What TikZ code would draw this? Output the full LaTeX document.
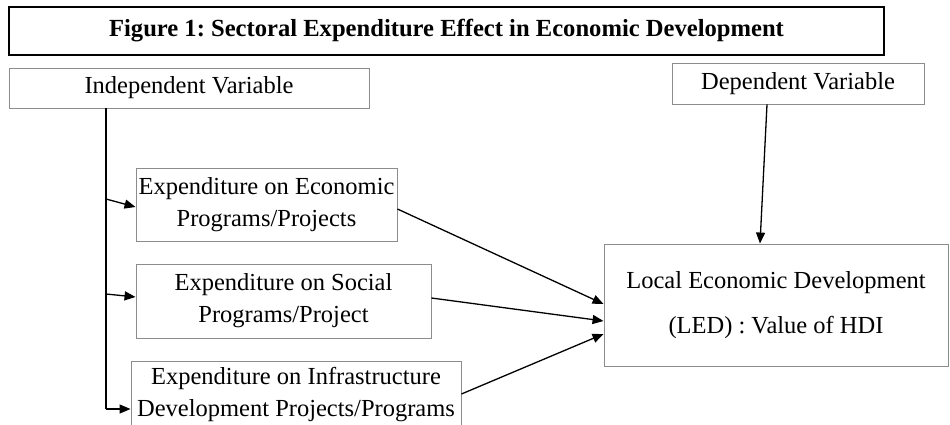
\documentclass[tikz,border=0pt]{standalone}
\usepackage{fontspec}
\setmainfont{Liberation Serif}
\usetikzlibrary{arrows.meta}
\frenchspacing
\begin{document}
\begin{tikzpicture}[x=1pt,y=-1pt,
  box/.style={draw=black!45,line width=0.9pt,rectangle,inner sep=0pt,align=center,
    font=\fontsize{24.5}{32}\selectfont},
  titlebox/.style={draw=black,line width=1.8pt,rectangle,inner sep=0pt,
    font=\fontsize{24.6}{28}\selectfont\bfseries},
  arr/.style={line width=1.3pt,-{Triangle[length=11pt,width=9pt]}},
  link/.style={line width=1.3pt}]
\useasboundingbox (0,0) rectangle (950,425);
\clip (0,0) rectangle (950,425);
\fill[white] (0,0) rectangle (950,425);

% boxes
\node[titlebox,minimum width=875pt,minimum height=48pt] (title) at (446.5,31)
  {Figure 1: Sectoral Expenditure Effect in Economic Development};
\node[box,minimum width=360pt,minimum height=40pt] (indep) at (189,88)
  {Independent Variable\vphantom{p}};
\node[box,minimum width=252pt,minimum height=41pt] (dep) at (798,83.5)
  {Dependent Variable};
\node[box,minimum width=261pt,minimum height=73pt] (econ) at (266.5,204.5)
  {Expenditure on Economic\\Programs/Projects};
\node[box,minimum width=295pt,minimum height=74pt] (social) at (283.5,301)
  {Expenditure on Social\\Programs/Project};
\node[box,minimum width=330pt,minimum height=68pt] (infra) at (296,395)
  {Expenditure on Infrastructure\\Development Projects/Programs};
\node[box,minimum width=344pt,minimum height=122pt,
  font=\fontsize{24.5}{45}\selectfont] (led) at (776,305)
  {Local Economic Development\\(LED) : Value of HDI};

% spine of the independent variable
\coordinate (spine) at (106,0);
\draw[link] (indep.south -| spine) -- (spine |- 0,409);
\draw[arr] (spine |- 0,199) -- (econ.west |- 0,207);
\draw[arr] (spine |- 0,294) -- (social.west |- 0,297);
\draw[arr] (spine |- 0,409) -- (infra.west |- 0,409);

% links into the dependent variable
\draw[arr] (dep.south -| 767,0) -- (led.north -| 760,0);
\draw[arr] (econ.east |- 0,209) -- (led.west |- 0,304);
\draw[arr] (social.east |- 0,298) -- (led.west |- 0,321);
\draw[arr] (infra.east |- 0,394) -- (led.west |- 0,334);
\end{tikzpicture}
\end{document}
